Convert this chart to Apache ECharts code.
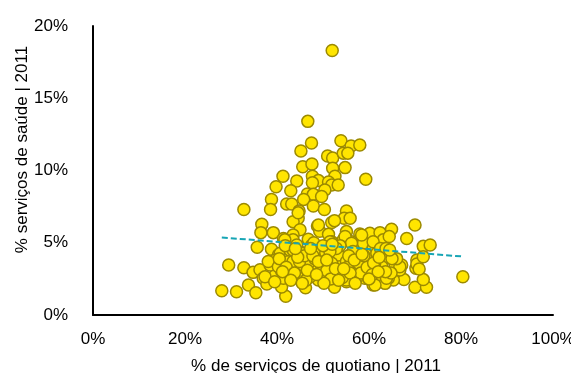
<!DOCTYPE html>
<html>
<head>
<meta charset="utf-8">
<script src="https://cdn.jsdelivr.net/npm/echarts@6/dist/echarts.min.js"></script>
<style>
  html, body { margin: 0; padding: 0; background: #fff; }
  #chart { width: 571px; height: 373px; }
</style>
</head>
<body>
<div id="chart"></div>
<script>
// % serviços de quotidiano (x) e % serviços de saúde (y), 2011
var quotidiano = [
  52.0, 46.7, 47.5, 45.2, 53.9, 56.1, 58.0, 51.0, 52.1, 54.4, 55.4, 45.6, 47.6, 52.1, 54.8,
  41.3, 44.3, 47.7, 52.6, 49.0, 51.2, 51.9, 53.3, 59.3, 39.8, 43.0, 47.7, 46.6, 47.9, 50.4,
  49.7, 38.8, 45.8, 32.8, 38.6, 42.1, 43.2, 47.9, 50.3, 44.8, 44.6, 43.5, 51.9, 55.1, 54.6,
  55.9, 52.5, 48.8, 36.7, 36.5, 39.2, 45.0, 49.3, 43.5, 46.8, 41.4, 35.7, 51.2, 55.1, 58.0,
  60.2, 62.4, 64.9, 70.0, 68.2, 71.8, 73.3, 29.5, 32.8, 28.0, 31.2, 33.8, 35.4, 41.9, 41.0,
  46.2, 52.5, 60.9, 55.1, 67.6, 70.0, 72.5, 71.8, 70.2, 70.4, 34.8, 36.3, 37.0, 37.8, 39.6,
  41.7, 41.0, 38.8, 40.3, 42.5, 43.2, 45.0, 45.4, 45.4, 47.5, 49.7, 51.5, 49.0, 52.2, 53.7,
  55.1, 57.3, 59.5, 60.6, 62.4, 63.1, 63.8, 65.7, 67.1, 59.8, 57.3, 54.4, 56.2, 58.8, 60.9,
  63.1, 51.9, 49.9, 40.7, 38.5, 39.6, 42.8, 37.4, 45.0, 47.2, 50.4, 53.3, 55.5, 58.0, 56.6,
  59.1, 62.0, 65.3, 66.7, 70.4, 71.8, 80.4, 70.9, 64.2, 63.5, 66.7, 63.1, 64.4, 38.1, 40.3,
  41.4, 42.5, 42.8, 43.5, 44.3, 43.5, 41.7, 44.6, 49.0, 51.5, 54.8, 56.2, 58.4, 60.9, 43.5,
  45.4, 49.7, 53.3, 57.3, 59.5, 61.7, 63.5, 43.5, 46.8, 51.9, 55.1, 62.8, 45.7, 55.1, 59.1,
  61.3, 63.8, 53.0, 50.8, 47.5, 53.7, 44.3, 57.3,
  40.5, 42.0, 43.8, 44.9, 46.0, 47.0, 48.2, 49.4, 50.6, 51.7, 52.9, 54.0, 55.3, 56.5, 57.7,
  58.9, 60.1, 61.2, 62.5, 63.7, 64.8, 66.0, 41.2, 43.0, 44.5, 46.3, 47.8, 49.0, 50.2, 51.5,
  52.7, 54.2, 55.6, 56.8, 58.2, 59.6, 61.0, 62.2, 63.6, 65.0, 39.5, 41.8, 44.0, 46.6, 48.6,
  50.8, 53.4, 55.9, 58.5, 60.7, 48.0, 50.0, 52.0, 54.5, 57.0, 45.5, 47.3, 60.0, 62.0, 64.5
];
var saude = [
  18.3, 13.4, 11.9, 11.35, 12.06, 11.7, 11.76, 11.0, 10.87, 11.2, 11.2, 10.26, 10.45, 10.15, 10.2,
  9.6, 9.27, 9.6, 9.6, 9.3, 9.2, 9.0, 9.0, 9.4, 8.88, 8.6, 9.15, 8.37, 8.35, 8.65,
  8.2, 8.0, 8.0, 7.3, 7.3, 7.68, 7.68, 7.54, 7.3, 7.2, 6.7, 6.46, 6.4, 7.2, 6.7,
  6.7, 6.53, 6.16, 6.28, 5.7, 5.7, 5.9, 5.8, 5.54, 5.24, 5.3, 4.69, 5.58, 5.77, 5.6,
  5.65, 5.7, 5.93, 6.23, 5.3, 4.75, 4.85, 3.46, 3.27, 1.68, 1.61, 2.08, 1.54, 1.3, 1.94,
  1.88, 1.92, 2.08, 2.3, 2.45, 1.92, 1.92, 2.45, 3.23, 3.8, 2.95, 3.13, 2.54, 2.15, 2.75,
  2.65, 3.05, 4.55, 4.15, 3.6, 4.38, 4.38, 3.8, 3.23, 3.34, 3.46, 3.07, 2.42, 2.77, 4.08,
  2.6, 3.16, 3.58, 3.16, 3.8, 4.0, 2.65, 3.46, 3.46, 4.5, 4.55, 5.2, 5.07, 4.96, 4.62,
  5.2, 5.07, 4.08, 4.27, 3.46, 3.8, 4.03, 2.65, 2.77, 2.65, 2.77, 3.46, 3.62, 3.8, 3.11,
  2.65, 2.54, 2.42, 3.11, 3.53, 4.03, 2.65, 3.18, 2.54, 2.19, 3.34, 3.9, 5.43, 3.7, 3.34,
  2.54, 3.7, 4.5, 5.2, 4.85, 3.11, 5.2, 7.07, 6.23, 5.07, 5.43, 4.96, 5.54, 5.07, 4.5,
  4.27, 4.27, 4.15, 4.27, 4.15, 4.27, 3.9, 3.7, 3.58, 3.58, 3.7, 3.34, 3.0, 2.42, 2.54,
  2.08, 2.54, 2.95, 3.07, 4.8, 4.8, 2.77, 2.54,
  3.9, 3.3, 2.9, 3.7, 4.1, 2.9, 3.9, 4.6, 4.3, 2.5, 4.6, 3.0, 3.3, 4.4, 3.6,
  4.1, 3.0, 3.5, 4.6, 4.6, 2.9, 3.9, 3.0, 2.4, 4.0, 2.4, 4.1, 3.7, 2.2, 4.4,
  3.2, 2.6, 4.1, 3.8, 2.9, 3.3, 3.6, 4.0, 3.0, 3.9, 2.3, 4.8, 4.6, 3.1, 2.8,
  3.8, 2.4, 2.9, 4.2, 2.8, 5.0, 4.8, 4.9, 3.2, 2.2, 2.2, 4.6, 2.5, 3.0, 4.5
];
var xTicks = [0, 20, 40, 60, 80, 100];
var yTicks = [0, 5, 10, 15, 20];

var points = quotidiano.map(function (x, i) { return [x, saude[i]]; });

// linha de tendência linear (mínimos quadrados)
var n = points.length, sx = 0, sy = 0, sxy = 0, sxx = 0;
points.forEach(function (p) { sx += p[0]; sy += p[1]; sxy += p[0] * p[1]; sxx += p[0] * p[0]; });
var b = (n * sxy - sx * sy) / (n * sxx - sx * sx);
var a = (sy - b * sx) / n;
var xMin = Math.min.apply(null, quotidiano), xMax = Math.max.apply(null, quotidiano);
var trend = [[xMin, a + b * xMin], [xMax, a + b * xMax]];

var fontName = '"Liberation Sans Narrow", "Arial Narrow", "Liberation Sans", sans-serif';

var chart = echarts.init(document.getElementById('chart'), null, { renderer: 'canvas' });
chart.setOption({
  animation: false,
  grid: { left: 93, right: 18, top: 26, bottom: 58, outerBoundsMode: 'none', containLabel: false },
  xAxis: {
    type: 'value',
    min: xTicks[0], max: xTicks[xTicks.length - 1], interval: 20,
    name: '% de serviços de quotiano | 2011',
    nameLocation: 'middle',
    nameGap: 43,
    nameMoveOverlap: false,
    nameTextStyle: { color: '#000', fontSize: 17, fontFamily: fontName, padding: [0, 14, 0, 0] },
    axisLine: { lineStyle: { color: '#000', width: 2 } },
    axisTick: { show: false },
    splitLine: { show: false },
    axisLabel: { formatter: '{value}%', color: '#000', fontSize: 17, fontFamily: fontName, margin: 16 }
  },
  yAxis: {
    type: 'value',
    min: yTicks[0], max: yTicks[yTicks.length - 1], interval: 5,
    name: '% serviços de saúde | 2011',
    nameLocation: 'middle',
    nameGap: 62,
    nameMoveOverlap: false,
    nameTextStyle: { color: '#000', fontSize: 17, fontFamily: fontName, padding: [0, 0, 0, 42] },
    axisLine: { show: true, lineStyle: { color: '#000', width: 2 } },
    axisTick: { show: false },
    splitLine: { show: false },
    axisLabel: { formatter: '{value}%', color: '#000', fontSize: 17, fontFamily: fontName, margin: 25 }
  },
  series: [
    {
      type: 'scatter',
      data: points,
      symbolSize: 12,
      itemStyle: { color: '#FFE500', borderColor: '#9C8A00', borderWidth: 1.5, opacity: 1 }
    },
    {
      type: 'line',
      data: trend,
      symbol: 'none',
      lineStyle: { color: '#17A5B5', width: 2, type: [6, 3] },
      z: 3
    }
  ]
});
</script>
</body>
</html>
